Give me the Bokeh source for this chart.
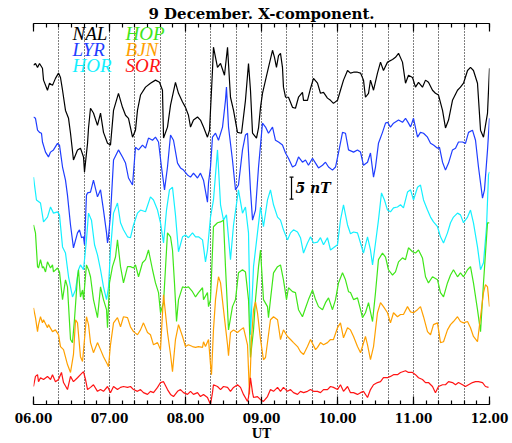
from bokeh.plotting import figure
from bokeh.models import Range1d, LinearAxis, FixedTicker, Label, CustomJSTickFormatter
from bokeh.embed import file_html
from bokeh.resources import INLINE

# ---- data (UT hours, X-component in nT, stacked offsets) ----
nal_t = [6.000,6.026,6.053,6.079,6.118,6.132,6.184,6.211,6.250,6.289,6.329,6.355,6.382,6.421,6.461,6.487,6.526,6.579,6.618,6.658,6.671,6.711,6.724,6.750,6.789,6.842,6.882,6.921,6.974,7.013,7.053,7.118,7.171,7.211,7.250,7.303,7.342,7.368,7.408,7.474,7.539,7.605,7.658,7.697,7.711,7.763,7.803,7.868,7.908,7.961,8.000,8.039,8.066,8.105,8.158,8.197,8.237,8.289,8.316,8.355,8.368,8.421,8.461,8.513,8.553,8.592,8.632,8.684,8.737,8.789,8.829,8.855,8.882,8.934,8.961,8.987,9.013,9.053,9.092,9.145,9.171,9.197,9.224,9.250,9.276,9.289,9.316,9.355,9.408,9.447,9.487,9.539,9.553,9.605,9.645,9.684,9.737,9.776,9.816,9.868,9.908,9.947,10.000,10.039,10.079,10.132,10.171,10.211,10.263,10.303,10.342,10.368,10.408,10.434,10.474,10.526,10.566,10.605,10.658,10.724,10.763,10.803,10.855,10.895,10.934,10.987,11.026,11.066,11.118,11.158,11.197,11.250,11.289,11.329,11.382,11.421,11.461,11.513,11.579,11.618,11.658,11.711,11.750,11.789,11.842,11.882,11.921,11.974,12.000]
nal_x = [77.3,77.7,76.8,77.7,76.6,73.9,71.6,73.2,72.7,74.3,75.5,74.5,71.6,67.0,65.2,61.8,55.7,58.0,58.4,56.4,53.0,59.5,63.0,67.5,66.4,63.6,66.4,62.0,59.5,59.1,67.0,70.9,67.7,65.9,65.2,60.9,62.5,67.0,70.5,72.3,73.2,73.9,73.4,71.6,60.7,63.2,68.2,73.4,70.9,68.9,67.7,65.9,63.2,64.8,65.5,64.8,63.2,60.9,62.5,76.1,81.4,76.8,77.7,75.0,81.4,70.0,67.0,62.0,61.8,69.3,77.7,71.6,61.8,60.7,63.0,67.7,70.9,73.9,76.8,80.7,79.1,76.8,79.5,80.0,76.8,72.3,70.0,70.0,67.7,67.5,70.0,71.1,69.3,69.3,72.0,74.3,73.2,70.9,71.1,69.8,69.3,68.6,69.3,71.6,73.9,76.1,75.5,75.7,75.7,75.5,73.9,70.0,70.9,73.9,71.6,75.5,78.0,76.1,78.0,78.6,79.1,80.0,78.0,73.2,75.0,74.5,72.3,73.4,72.3,73.9,73.4,71.6,70.9,70.5,67.0,63.0,64.8,69.3,71.6,72.3,73.2,76.1,76.8,76.1,73.2,62.5,60.9,66.4,76.6]

lyr_t = [6.000,6.026,6.053,6.079,6.105,6.118,6.158,6.197,6.224,6.263,6.316,6.342,6.382,6.421,6.447,6.487,6.526,6.579,6.605,6.632,6.658,6.671,6.697,6.711,6.750,6.789,6.842,6.882,6.921,6.961,6.974,6.987,7.013,7.053,7.118,7.171,7.211,7.250,7.303,7.342,7.382,7.434,7.474,7.513,7.566,7.605,7.645,7.684,7.724,7.763,7.803,7.842,7.895,7.934,7.974,8.026,8.066,8.105,8.158,8.197,8.237,8.289,8.303,8.329,8.355,8.395,8.434,8.487,8.526,8.539,8.566,8.618,8.658,8.697,8.750,8.789,8.816,8.855,8.882,8.921,8.961,9.013,9.053,9.092,9.145,9.184,9.224,9.276,9.316,9.355,9.408,9.447,9.487,9.539,9.579,9.618,9.671,9.711,9.750,9.803,9.842,9.882,9.934,9.974,10.013,10.066,10.105,10.145,10.211,10.263,10.303,10.342,10.395,10.434,10.474,10.500,10.539,10.592,10.632,10.658,10.697,10.737,10.803,10.855,10.895,10.934,10.961,11.000,11.053,11.092,11.132,11.184,11.224,11.263,11.316,11.342,11.382,11.421,11.461,11.513,11.553,11.592,11.645,11.684,11.724,11.776,11.816,11.855,11.908,11.934,11.974,12.000]
lyr_x = [65.5,65.2,62.5,62.0,61.8,59.8,57.5,56.4,57.5,58.0,59.5,59.1,54.1,51.1,47.7,40.9,35.7,39.1,39.8,38.0,38.2,36.4,47.7,48.2,48.4,51.1,47.3,48.9,44.3,39.1,36.8,38.2,43.2,55.7,58.0,56.4,55.0,51.6,50.0,58.6,58.0,59.1,58.4,60.7,60.2,60.9,59.8,54.1,48.9,54.1,61.4,60.2,55.0,53.9,53.4,52.3,51.8,52.7,51.6,52.7,51.1,46.1,50.5,54.1,60.9,61.8,60.2,63.2,69.3,72.3,63.2,55.7,48.9,50.0,58.0,61.4,61.8,48.9,42.0,44.3,54.1,64.1,63.2,61.8,63.2,60.2,59.8,59.1,57.3,56.1,54.1,54.5,56.4,55.2,55.7,54.5,56.1,55.0,53.9,54.5,55.2,54.1,53.4,54.1,57.3,62.0,61.8,58.0,57.5,58.0,57.5,54.5,55.2,57.3,51.8,54.1,59.5,62.0,64.1,64.3,63.2,64.1,64.8,64.3,65.2,64.1,63.2,65.2,60.9,62.0,61.8,60.9,59.5,59.1,58.4,58.6,55.2,53.4,55.0,58.0,58.4,59.8,59.8,59.5,62.0,62.5,60.2,54.1,47.0,48.9,58.0,65.2]

hor_t = [6.000,6.039,6.092,6.132,6.184,6.224,6.263,6.316,6.342,6.382,6.421,6.461,6.513,6.553,6.592,6.618,6.658,6.697,6.724,6.763,6.803,6.842,6.882,6.921,6.961,6.987,7.013,7.053,7.105,7.145,7.184,7.237,7.276,7.316,7.368,7.408,7.474,7.539,7.579,7.632,7.671,7.711,7.750,7.789,7.829,7.868,7.908,7.961,8.000,8.039,8.092,8.132,8.171,8.224,8.237,8.263,8.289,8.329,8.368,8.421,8.461,8.500,8.539,8.592,8.632,8.697,8.750,8.789,8.829,8.855,8.895,8.947,8.987,9.026,9.079,9.118,9.158,9.211,9.250,9.289,9.342,9.382,9.421,9.474,9.513,9.553,9.605,9.645,9.684,9.737,9.776,9.816,9.868,9.908,9.947,10.000,10.039,10.079,10.132,10.171,10.211,10.263,10.303,10.342,10.395,10.434,10.461,10.500,10.539,10.579,10.618,10.658,10.697,10.737,10.789,10.829,10.868,10.921,10.961,11.000,11.053,11.092,11.132,11.184,11.224,11.263,11.316,11.355,11.395,11.447,11.487,11.526,11.579,11.618,11.658,11.711,11.750,11.789,11.842,11.882,11.921,11.961,11.987,12.000]
hor_x = [51.8,46.6,45.9,41.6,42.7,45.0,43.6,43.9,43.2,35.9,34.5,29.1,24.5,26.1,30.7,31.8,30.7,37.5,43.6,42.0,36.4,34.1,30.7,26.8,23.9,26.8,35.2,43.6,45.9,41.4,39.8,38.2,38.0,40.9,43.6,44.3,43.9,47.3,46.6,44.3,41.4,36.8,44.3,48.9,49.5,43.2,34.8,38.2,38.6,38.0,39.1,38.2,38.2,37.5,35.9,32.5,35.2,42.7,46.6,58.0,45.5,42.0,43.2,33.0,40.9,48.9,43.6,45.0,39.1,15.9,31.4,39.1,45.0,40.5,46.6,48.9,45.5,42.7,42.0,39.8,37.5,39.1,39.8,39.3,38.0,34.5,36.8,38.2,36.8,37.0,38.0,36.4,38.0,35.2,35.7,36.4,42.0,45.5,40.9,38.9,39.3,39.1,36.8,34.5,38.2,35.2,31.8,36.8,42.0,48.2,46.6,44.3,43.9,44.8,45.0,45.5,44.8,48.4,48.9,46.6,49.5,50.0,46.6,44.3,42.7,41.6,40.5,38.2,36.8,39.1,41.4,42.7,43.6,43.2,41.4,42.7,44.3,41.4,35.9,30.7,32.3,40.5,52.3,53.0]

hop_t = [6.000,6.026,6.053,6.066,6.092,6.118,6.132,6.158,6.184,6.224,6.250,6.263,6.316,6.342,6.382,6.421,6.447,6.487,6.513,6.539,6.579,6.592,6.618,6.645,6.658,6.697,6.724,6.750,6.789,6.842,6.882,6.921,6.961,6.974,7.000,7.039,7.079,7.105,7.145,7.184,7.237,7.276,7.316,7.342,7.382,7.434,7.474,7.513,7.566,7.605,7.645,7.671,7.711,7.763,7.803,7.829,7.855,7.882,7.908,7.961,8.000,8.039,8.092,8.132,8.171,8.224,8.237,8.289,8.303,8.329,8.368,8.421,8.461,8.500,8.526,8.566,8.618,8.658,8.697,8.750,8.789,8.829,8.855,8.895,8.921,8.961,8.987,9.026,9.079,9.092,9.118,9.158,9.211,9.250,9.289,9.329,9.355,9.408,9.447,9.487,9.539,9.579,9.618,9.671,9.711,9.750,9.803,9.842,9.882,9.934,9.974,10.013,10.066,10.105,10.145,10.171,10.211,10.263,10.303,10.329,10.368,10.408,10.461,10.500,10.539,10.592,10.632,10.671,10.724,10.763,10.803,10.855,10.895,10.934,10.987,11.026,11.066,11.118,11.158,11.197,11.250,11.316,11.355,11.395,11.447,11.487,11.526,11.579,11.618,11.658,11.711,11.750,11.789,11.842,11.882,11.921,11.974,12.000]
hop_x = [40.9,39.1,31.4,31.1,33.0,31.1,31.4,30.2,32.5,31.1,31.8,30.2,31.1,30.2,23.9,28.4,26.8,14.8,14.1,19.3,29.1,30.7,24.5,26.1,23.9,31.8,30.7,29.1,23.9,19.8,26.8,23.9,21.6,17.5,27.7,31.4,33.6,37.5,31.4,27.7,31.4,31.4,31.1,31.8,29.1,32.3,33.0,35.2,30.7,27.7,25.5,20.9,23.2,39.1,38.2,35.2,27.7,18.9,23.9,26.8,26.6,26.8,25.7,24.5,25.5,26.6,23.9,25.5,22.3,23.9,40.5,41.4,41.6,42.0,31.4,17.0,22.3,23.9,30.0,30.7,30.2,23.9,10.7,17.0,23.9,31.4,35.2,23.9,22.3,19.8,23.9,30.0,31.4,31.8,28.4,23.9,26.6,25.7,25.5,21.6,20.0,22.0,23.9,26.1,23.9,22.3,21.6,23.2,24.3,21.6,23.9,27.7,30.0,28.4,25.7,25.5,23.9,24.3,21.6,19.8,20.9,23.2,18.9,25.5,33.0,34.5,33.6,30.7,29.5,30.2,32.5,33.4,33.0,35.7,34.8,34.5,35.2,33.4,29.1,27.7,29.1,28.4,25.5,24.5,27.7,29.5,30.7,29.1,30.0,29.1,30.7,31.4,27.7,21.6,16.6,27.7,41.4,41.4]

bjn_t = [6.000,6.026,6.053,6.066,6.092,6.118,6.132,6.184,6.197,6.250,6.289,6.329,6.355,6.395,6.447,6.487,6.526,6.553,6.579,6.618,6.645,6.671,6.697,6.724,6.750,6.789,6.842,6.882,6.921,6.974,6.987,7.013,7.053,7.105,7.145,7.184,7.237,7.276,7.316,7.368,7.408,7.447,7.500,7.539,7.579,7.632,7.671,7.711,7.763,7.803,7.829,7.868,7.908,7.961,8.000,8.039,8.092,8.132,8.171,8.224,8.237,8.263,8.303,8.329,8.342,8.368,8.395,8.434,8.461,8.500,8.553,8.566,8.592,8.632,8.684,8.724,8.763,8.816,8.842,8.868,8.895,8.921,8.947,8.987,9.026,9.053,9.092,9.118,9.158,9.211,9.250,9.289,9.342,9.382,9.421,9.474,9.513,9.553,9.605,9.645,9.711,9.737,9.776,9.816,9.868,9.908,9.947,10.000,10.039,10.079,10.132,10.171,10.211,10.263,10.303,10.368,10.395,10.434,10.474,10.526,10.566,10.605,10.658,10.697,10.737,10.789,10.829,10.868,10.921,10.961,11.000,11.053,11.092,11.132,11.184,11.224,11.263,11.316,11.355,11.395,11.447,11.487,11.526,11.579,11.618,11.658,11.711,11.750,11.789,11.842,11.882,11.921,11.947,11.974,12.000]
bjn_x = [22.0,19.8,16.6,18.2,20.0,18.6,19.3,17.5,18.2,16.6,17.0,15.9,13.2,12.5,9.1,7.3,11.4,19.3,18.6,10.9,9.8,14.8,20.0,18.2,14.1,11.8,14.1,12.5,10.9,9.1,8.6,13.6,18.6,19.8,17.7,20.0,19.8,17.7,16.6,15.9,17.0,18.6,16.4,15.9,13.6,14.1,12.5,25.0,16.4,11.4,7.5,14.8,18.2,15.5,13.2,13.6,13.2,13.0,13.2,13.0,14.3,13.2,14.8,9.1,6.8,17.0,23.9,29.1,27.7,21.6,13.6,11.1,16.4,17.0,16.4,17.0,17.5,13.6,2.3,14.8,21.6,23.4,20.9,14.8,10.2,10.7,15.9,19.3,20.0,19.3,14.8,17.0,15.5,14.8,14.1,13.2,12.0,11.4,13.2,14.8,12.5,13.0,14.1,13.6,14.1,14.8,14.8,17.5,18.6,15.2,17.5,17.0,15.5,13.2,11.8,15.5,13.6,10.2,13.2,20.9,23.2,22.3,20.9,18.6,20.9,20.0,20.5,20.5,22.3,21.1,20.9,21.6,22.3,20.0,16.6,15.9,18.2,18.6,14.1,14.3,17.0,18.2,18.9,20.0,18.9,18.6,18.9,17.5,15.5,14.3,20.0,25.5,27.3,26.8,22.3]

sor_t = [6.000,6.026,6.053,6.066,6.092,6.132,6.184,6.224,6.250,6.289,6.329,6.368,6.395,6.447,6.487,6.526,6.579,6.618,6.658,6.684,6.711,6.750,6.789,6.842,6.882,6.921,6.974,7.013,7.053,7.105,7.145,7.184,7.237,7.276,7.316,7.368,7.408,7.447,7.500,7.539,7.579,7.632,7.671,7.711,7.763,7.803,7.842,7.895,7.934,7.974,8.026,8.066,8.105,8.158,8.197,8.237,8.289,8.329,8.355,8.368,8.421,8.461,8.500,8.553,8.592,8.632,8.684,8.724,8.763,8.816,8.829,8.855,8.882,8.895,8.947,8.987,9.026,9.079,9.118,9.158,9.211,9.250,9.289,9.342,9.382,9.421,9.474,9.513,9.553,9.605,9.645,9.684,9.737,9.776,9.816,9.868,9.908,9.947,10.000,10.039,10.079,10.132,10.171,10.211,10.263,10.303,10.342,10.395,10.434,10.474,10.526,10.566,10.605,10.658,10.697,10.737,10.789,10.829,10.895,10.934,10.987,11.026,11.066,11.118,11.158,11.197,11.250,11.289,11.329,11.382,11.421,11.461,11.513,11.553,11.592,11.645,11.684,11.724,11.776,11.816,11.855,11.908,11.947,11.987]
sor_x = [4.1,6.4,6.8,5.2,6.1,5.7,6.4,5.7,6.8,5.2,5.7,7.3,5.0,3.4,6.4,5.2,6.1,6.8,7.5,5.7,3.4,3.9,4.5,3.0,3.4,3.0,4.1,2.7,4.1,3.4,3.9,4.1,3.9,4.1,3.4,3.0,3.4,2.7,2.3,3.0,2.7,3.9,5.0,5.2,3.4,2.3,1.8,3.0,3.4,2.7,2.3,3.0,2.3,2.7,1.8,2.3,1.6,0.0,2.7,4.5,4.1,3.4,4.1,3.9,3.0,3.9,4.5,3.9,2.3,0.7,1.6,6.1,2.7,1.6,1.8,1.1,0.7,1.8,3.4,3.0,3.9,3.0,3.9,3.0,3.4,2.7,2.3,3.0,2.7,3.0,3.4,3.0,3.0,2.7,3.4,3.4,4.1,3.9,3.4,4.5,3.0,4.1,2.7,2.7,2.3,2.7,3.0,1.6,3.4,4.5,5.0,5.2,6.1,6.1,6.4,6.8,6.8,7.3,7.7,7.3,7.3,6.8,6.1,5.7,5.0,5.0,4.1,2.7,4.1,4.5,4.5,5.2,5.0,4.5,5.0,4.5,4.1,4.5,5.0,5.2,5.2,5.0,4.1,3.9]

stations = ["NAL", "LYR", "HOR", "HOP", "BJN", "SOR"]
station_colors = ["#000000", "#1f3dff", "#14f0ff", "#3fe619", "#ffa000", "#ff1414"]
series_t = [nal_t, lyr_t, hor_t, hop_t, bjn_t, sor_t]
series_x = [nal_x, lyr_x, hor_x, hop_x, bjn_x, sor_x]

hour_ticks = [6, 7, 8, 9, 10, 11, 12]
title_text = "9 December. X-component."
x_label = "UT"
scale_nt = 5
scale_label = "5 nT"

# ---- figure ----
p = figure(width=510, height=443, x_range=Range1d(6, 12), y_range=Range1d(0, 86.8),
           output_backend="svg", toolbar_location=None, y_axis_location=None,
           min_border_left=33, min_border_right=21, min_border_top=23, min_border_bottom=38,
           title=title_text)
p.outline_line_color = None
p.background_fill_color = "white"
p.border_fill_color = "white"
p.ygrid.visible = False

p.title.align = "center"
p.title.text_font = "DejaVu Serif"
p.title.text_font_style = "bold"
p.title.text_font_size = "15px"
p.title.text_color = "black"
p.title.standoff = 2
p.title.offset = 0

minor = [6 + i / 6 for i in range(37)]
fmt = CustomJSTickFormatter(code="const h=Math.round(tick); return (h<10?'0':'')+h+'.00';")

ax = p.xaxis[0]
ax.ticker = FixedTicker(ticks=hour_ticks, minor_ticks=minor)
ax.formatter = fmt
ax.major_tick_in = 8
ax.major_tick_out = 0
ax.minor_tick_in = 4
ax.minor_tick_out = 0
ax.axis_line_width = 1.2
ax.major_tick_line_width = 1.2
ax.minor_tick_line_width = 1.2
ax.major_label_text_font = "DejaVu Serif"
ax.major_label_text_font_style = "bold"
ax.major_label_text_font_size = "12px"
ax.major_label_text_color = "black"
ax.major_label_standoff = 8
ax.axis_label = x_label
ax.axis_label_text_font = "DejaVu Serif"
ax.axis_label_text_font_style = "bold"
ax.axis_label_text_font_size = "12px"
ax.axis_label_text_color = "black"
ax.axis_label_standoff = 1

top = LinearAxis(ticker=FixedTicker(ticks=hour_ticks, minor_ticks=minor),
                 formatter=CustomJSTickFormatter(code="return '';"))
top.major_tick_in = 8
top.major_tick_out = 0
top.minor_tick_in = 4
top.minor_tick_out = 0
top.axis_line_width = 1.2
top.major_tick_line_width = 1.2
top.minor_tick_line_width = 1.2
top.major_label_standoff = 0
p.add_layout(top, "above")

p.xgrid.ticker = FixedTicker(ticks=[6 + i / 3 for i in range(19)])
p.xgrid.grid_line_color = "black"
p.xgrid.grid_line_dash = "1 2"
p.xgrid.grid_line_width = 1

for t, x, c in zip(series_t, series_x, station_colors):
    p.line(t, x, line_color=c, line_width=1.2)

# station legend (two columns, three rows)
col_x = [6.513, 7.211]
row_y = [84.5, 80.9, 77.3]
order = [("NAL", 0, 0), ("HOP", 1, 0), ("LYR", 0, 1), ("BJN", 1, 1), ("HOR", 0, 2), ("SOR", 1, 2)]
for name, ci, ri in order:
    c = station_colors[stations.index(name)]
    p.add_layout(Label(x=col_x[ci], y=row_y[ri], text=name, text_font="Liberation Serif",
                       text_font_style="italic", text_font_size="19px", text_color=c,
                       text_align="left", text_baseline="middle"))

# scale bar
bx, by0 = 9.395, 46.8
p.segment(x0=[bx], y0=[by0], x1=[bx], y1=[by0 + scale_nt], line_color="black", line_width=1.2)
p.segment(x0=[bx - 0.026, bx - 0.026], y0=[by0, by0 + scale_nt], x1=[bx + 0.026, bx + 0.026],
          y1=[by0, by0 + scale_nt], line_color="black", line_width=1.2)
p.add_layout(Label(x=9.447, y=by0 + scale_nt / 2, text=scale_label, text_font="DejaVu Serif",
                   text_font_style="bold italic", text_font_size="14px", text_align="left",
                   text_baseline="middle", text_color="black"))

open("out.html", "w").write(file_html(p, INLINE))
